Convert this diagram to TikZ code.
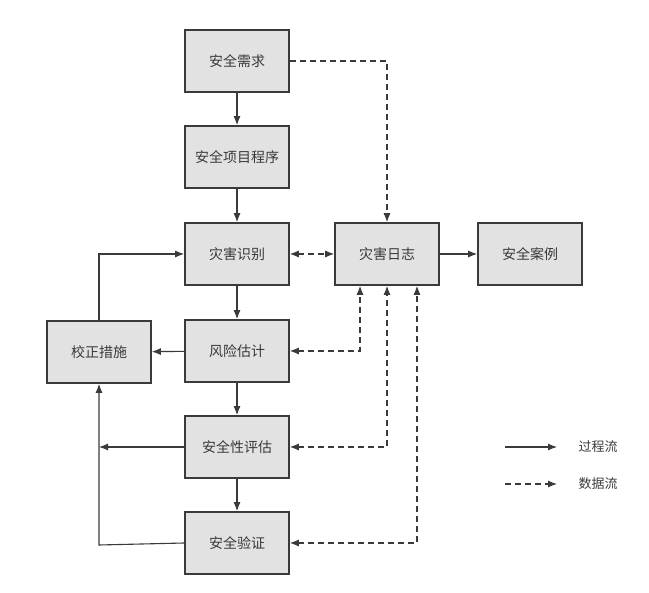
\documentclass[tikz,border=0pt]{standalone}
\usepackage{fontspec}
\setmainfont{Noto Sans CJK SC}
\usetikzlibrary{arrows.meta}
\definecolor{boxfill}{HTML}{E2E2E2}
\definecolor{ink}{HTML}{3A3A3A}
\begin{document}
\begin{tikzpicture}[x=1pt,y=-1pt,
  blk/.style={draw=ink,line width=1.6pt,fill=boxfill,minimum width=104pt,minimum height=62pt,inner sep=0pt,font=\fontsize{14}{16}\selectfont,text=ink},
  proc/.style={draw=ink,line width=1.1pt,-{Latex[length=9pt,width=7pt]}},
  data/.style={draw=ink,line width=1.1pt,dash pattern=on 6pt off 4pt,-{Latex[length=9pt,width=7pt]}},
  lbl/.style={font=\fontsize{13}{15}\selectfont,text=ink,anchor=west}]
\useasboundingbox (0,0) rectangle (649,593);
\node[blk] (req) at (237,61) {安全需求};
\node[blk] (prog) at (237,157) {安全项目程序};
\node[blk] (hid) at (237,254) {灾害识别};
\node[blk] (log) at (387,254) {灾害日志};
\node[blk] (case) at (530,254) {安全案例};
\node[blk] (corr) at (99,352) {校正措施};
\node[blk] (risk) at (237,351) {风险估计};
\node[blk] (eval) at (237,447) {安全性评估};
\node[blk] (ver) at (237,543) {安全验证};
\coordinate (cL) at (99,447);
\coordinate (cB) at (99,545);
\draw[proc] (req) -- (prog);
\draw[proc] (prog) -- (hid);
\draw[proc] (hid) -- (risk);
\draw[proc] (risk) -- (eval);
\draw[proc] (eval) -- (ver);
\draw[proc] (log) -- (case);
\draw[proc] (risk) -- (corr);
\draw[proc] (corr.north) |- (hid.west);
\draw[proc] (eval.west) -- (cL);
\draw[proc] (ver.west) -- (cB) -- (corr.south);
\draw[data] (req.east) -| (log.north);
\draw[data,{Latex[length=9pt,width=7pt]}-{Latex[length=9pt,width=7pt]}] (hid) -- (log);
\draw[data,{Latex[length=9pt,width=7pt]}-{Latex[length=9pt,width=7pt]}] (risk.east) -| ([xshift=-27pt]log.south);
\draw[data,{Latex[length=9pt,width=7pt]}-{Latex[length=9pt,width=7pt]}] (eval.east) -| (log.south);
\draw[data,{Latex[length=9pt,width=7pt]}-{Latex[length=9pt,width=7pt]}] (ver.east) -| ([xshift=30pt]log.south);
\coordinate (l1a) at (505,447); \coordinate (l1b) at (557,447);
\coordinate (l2a) at (505,484); \coordinate (l2b) at (557,484);
\draw[proc] (l1a) -- (l1b);
\draw[data] (l2a) -- (l2b);
\node[lbl] (t1) at (575,447) {过程流};
\node[lbl] (t2) at (575,484) {数据流};
\end{tikzpicture}
\end{document}
